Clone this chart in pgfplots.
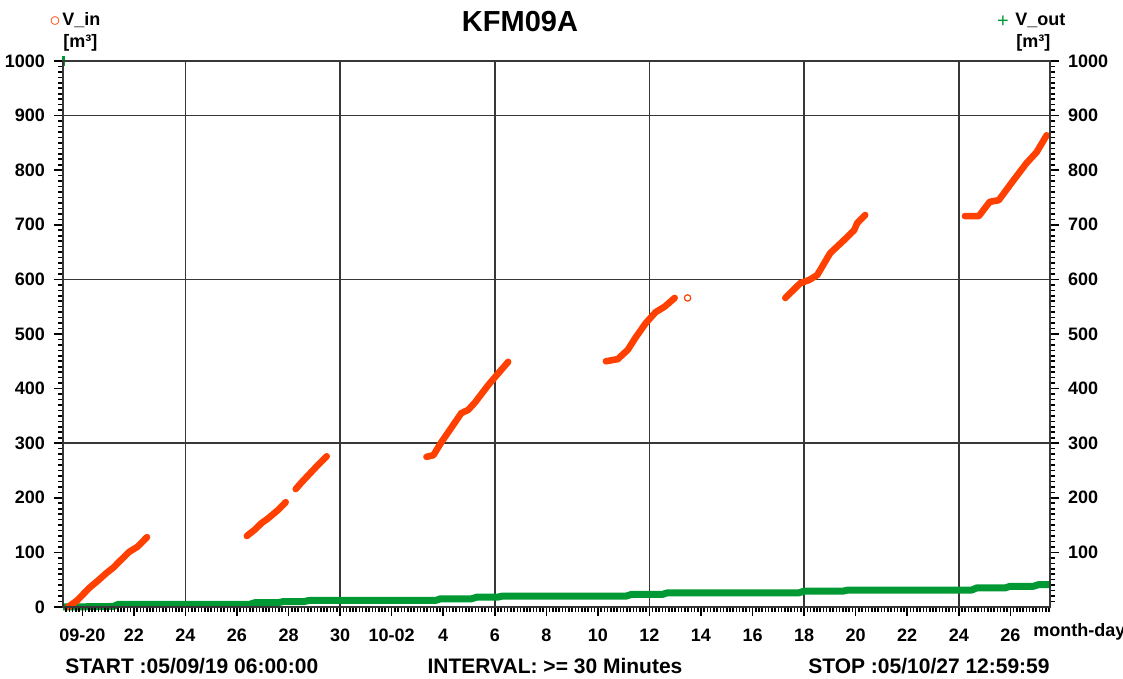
\documentclass[border=0pt]{standalone}
\usepackage{pgfplots}
\pgfplotsset{compat=1.18}
\usepackage{pgfplotstable}
\usepackage{fontspec}
\setmainfont{Liberation Sans}
\definecolor{vin}{RGB}{255,64,0}
\definecolor{vout}{RGB}{0,153,51}
\definecolor{gridc}{RGB}{55,55,55}

\pgfplotstableread{
x y
0.45 0
0.8 12
1.27 35
1.6 48
1.93 62
2.2 72
2.43 83
2.82 101
3.13 110
3.3 118
3.51 128
nan nan
7.38 130
7.7 142
7.96 154
8.2 162
8.35 168
8.6 178
8.89 192
nan nan
9.28 216
9.5 228
9.78 242
10.1 258
10.48 276
nan nan
14.35 275
14.62 278
14.93 302
15.31 328
15.70 355
15.97 361
16.24 375
16.74 406
17.01 421
17.52 449
nan nan
21.31 450
21.77 454
22.16 471
22.47 494
22.86 520
23.24 540
23.59 550
23.98 566
nan nan
28.27 566
28.85 593
29.20 599
29.51 608
30.01 648
30.55 672
30.94 690
31.06 703
31.37 718
nan nan
35.24 716
35.78 716
36.20 742
36.55 745
37.13 782
37.63 813
38.02 833
38.41 864
}\vintab

\pgfplotstableread{
x y
0.25 0
2.2 1
2.4 5
7.5 5
7.7 8
8.6 8
8.8 10
9.6 10
9.8 12
14.7 12
14.9 15
16.1 15
16.3 18
17.1 18
17.3 20
22.1 20
22.3 23
23.5 23
23.7 26
28.8 26
29.0 29
30.5 29
30.7 31
35.5 31
35.7 35
36.8 35
37.0 38
37.9 38
38.1 41
38.54 41
}\vouttab

\pgfplotsset{common/.style={
  scale only axis, width=493.5pt, height=273pt,
  xmin=0.25, xmax=38.54, ymin=0, ymax=1000,
  tick align=outside,
  major tick length=4.5pt, minor tick length=2.4pt,
  every tick/.style={black, line width=0.8pt},
  minor ytick={10,20,...,990},
  /pgf/number format/assume math mode=true,
  /pgf/number format/1000 sep={},
  ticklabel style={font=\fontsize{9}{10}\selectfont\bfseries},
  axis line style={gridc, line width=0.8pt},
},
tickstrip/.style={
  scale only axis, width=493.5pt,
  at={(0pt,0pt)}, anchor=north west,
  xmin=0.25, xmax=38.54, ymin=0, ymax=1,
  axis line style={draw=none},
  major tick length=0pt, minor tick length=0pt,
  ytick=\empty, xticklabels={},
}}

\begin{document}
\begin{tikzpicture}
\useasboundingbox (-31.5pt,-36pt) rectangle (530pt,303.5pt);
% strip of major x ticks (drawn as short grid lines below the axis)
\begin{axis}[tickstrip, height=4.5pt,
  xtick={1,3,...,37},
  xmajorgrids=true,
  major grid style={black, line width=0.8pt},
]
\addplot[draw=none] coordinates {(1,0.5)};
\end{axis}
% strip of minor x ticks
\begin{axis}[tickstrip, height=2.4pt,
  xtick={1,3,...,37},
  minor xtick={0.375,0.5,...,38.5},
  xminorgrids=true,
  minor grid style={black, line width=0.5pt},
]
\addplot[draw=none] coordinates {(1,0.5)};
\end{axis}
\begin{axis}[common,
  clip=false,
  xtick pos=bottom, ytick pos=left,
  x tick style={black, line width=0.8pt},
  xtick={1,3,...,37},
  xticklabels={09-20,22,24,26,28,30,10-02,4,6,8,10,12,14,16,18,20,22,24,26},
  minor xtick={0.375,0.5,...,38.5},
  ytick={0,100,...,1000},
  extra x ticks={5,11,17,23,29,35},
  extra x tick labels={},
  extra x tick style={xmajorgrids=true},
  extra y ticks={300,600,900},
  extra y tick labels={},
  extra y tick style={ymajorgrids=true},
  major grid style={gridc, line width=0.75pt},
  xticklabel style={yshift=-3pt},
  yticklabel style={xshift=-1pt},
]
\addplot[vout, line width=3.5pt, line join=round] table {\vouttab};
\addplot[vin, line width=3.3pt, line cap=round, line join=round, unbounded coords=jump] table {\vintab};
\addplot[only marks, mark=o, mark size=1.6pt, vin, line width=0.6pt] coordinates {(24.48,566)};
\addplot[only marks, mark=|, mark size=2.5pt, vout, line width=1.5pt] coordinates {(0.27,1000)};
\end{axis}
\begin{axis}[common,
  xtick pos=bottom, ytick pos=right,
  yticklabel pos=right,
  x tick style={black, line width=0.8pt},
  xtick={1,3,...,37},
  xticklabels={},
  minor xtick={0.375,0.5,...,38.5},
  ytick={100,200,...,1000},
  yticklabel style={xshift=1pt},
]
\addplot[draw=none] coordinates {(1,0)};
\end{axis}
\node[font=\fontsize{14.5}{16}\selectfont\bfseries] at (228.5pt,292.5pt) {KFM09A};
\node[font=\fontsize{9}{10}\selectfont\bfseries, anchor=west, inner sep=0pt] at (-0.5pt,293.5pt) {V\_in};
\node[font=\fontsize{11}{10}\selectfont\bfseries, text=vin, inner sep=0pt] at (-4pt,292.5pt) {$\circ$};
\node[font=\fontsize{9}{10}\selectfont\bfseries, anchor=west, inner sep=0pt] at (0pt,282pt) {[m³]};
\node[font=\fontsize{9}{10}\selectfont\bfseries, anchor=west, inner sep=0pt] at (476pt,293.5pt) {V\_out};
\node[font=\fontsize{10}{10}\selectfont, text=vout, inner sep=0pt] at (470pt,292.5pt) {+};
\node[font=\fontsize{9}{10}\selectfont\bfseries, anchor=west, inner sep=0pt] at (476.5pt,282pt) {[m³]};
\node[font=\fontsize{9}{10}\selectfont\bfseries, anchor=west, inner sep=0pt] at (485pt,-12.5pt) {month-day};
\node[font=\fontsize{10.5}{12}\selectfont\bfseries, anchor=west, inner sep=0pt] at (1pt,-29.5pt) {START :05/09/19 06:00:00};
\node[font=\fontsize{10.5}{12}\selectfont\bfseries, inner sep=0pt] at (246pt,-29.5pt) {INTERVAL: >= 30 Minutes};
\node[font=\fontsize{10.5}{12}\selectfont\bfseries, anchor=east, inner sep=0pt] at (493.5pt,-29.5pt) {STOP :05/10/27 12:59:59};
\end{tikzpicture}
\end{document}
